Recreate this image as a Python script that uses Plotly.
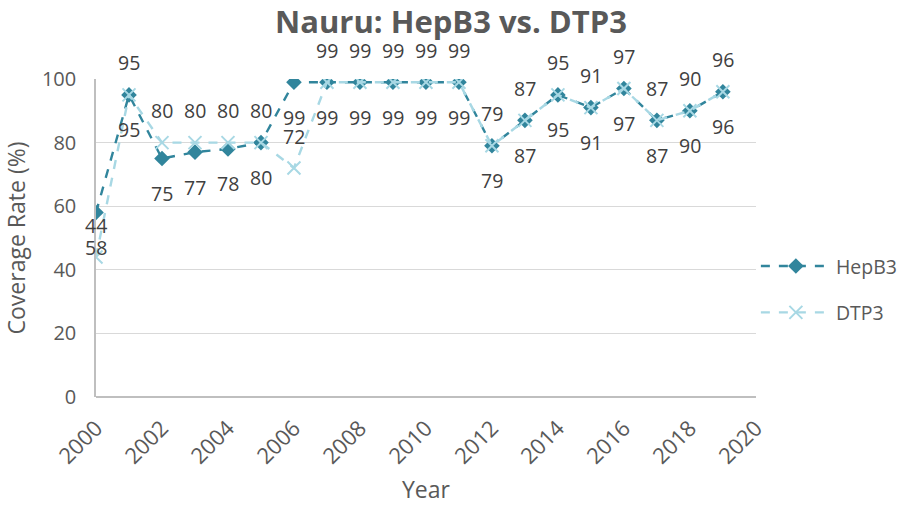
import plotly.graph_objects as go

years = list(range(2000, 2020))
hepb3 = [58, 95, 75, 77, 78, 80, 99, 99, 99, 99, 99, 99, 79, 87, 95, 91, 97, 87, 90, 96]
dtp3 = [44, 95, 80, 80, 80, 80, 72, 99, 99, 99, 99, 99, 79, 87, 95, 91, 97, 87, 90, 96]

FONT = "'Open Sans', sans-serif"
C_HEP = "#31859c"
C_DTP = "#a8d8e4"

fig = go.Figure()
fig.add_trace(go.Scatter(
    x=years, y=hepb3, name="HepB3", mode="lines+markers", legendgroup="a",
    line=dict(color=C_HEP, width=2.4, dash="dash"),
    marker=dict(symbol="diamond", size=12, color=C_HEP),
))
fig.add_trace(go.Scatter(
    x=years, y=dtp3, name="DTP3", mode="lines+markers", legendgroup="b",
    line=dict(color=C_DTP, width=2.4, dash="dash"),
    marker=dict(symbol="x-thin-open", size=13, color=C_DTP, line=dict(color=C_DTP, width=2)),
))

annotations = []
for x, v in zip(years, hepb3):
    annotations.append(dict(x=x, y=v, text=str(v), showarrow=False, yshift=-35,
                            font=dict(family=FONT, size=19.5, color="#404040")))
for x, v in zip(years, dtp3):
    annotations.append(dict(x=x, y=v, text=str(v), showarrow=False, yshift=32,
                            font=dict(family=FONT, size=19.5, color="#404040")))

fig.update_layout(
    width=902, height=505,
    paper_bgcolor="white", plot_bgcolor="white",
    margin=dict(l=96, r=145, t=79, b=95),
    title=dict(text="<b>Nauru: HepB3 vs. DTP3</b>", x=0.5, xanchor="center", y=0.956, yanchor="middle",
               font=dict(family=FONT, size=31, color="#595959")),
    font=dict(family=FONT, color="#595959"),
    annotations=annotations,
    legend=dict(xref="container", yref="container", x=0.838, xanchor="left", y=0.427, yanchor="middle",
                font=dict(family=FONT, size=19.5, color="#595959"),
                itemwidth=70, tracegroupgap=18, bgcolor="rgba(0,0,0,0)"),
    xaxis=dict(range=[2000, 2020], dtick=2, tick0=2000, tickangle=-45, automargin=False,
               anchor="free", position=0,
               tickfont=dict(family=FONT, size=22, color="#595959"), ticks="",
               showgrid=False, showline=False, zeroline=False,
               title=dict(text="Year", font=dict(family=FONT, size=23, color="#595959"))),
    yaxis=dict(range=[0, 100], dtick=20, tick0=0, automargin=False, domain=[0.0393, 1],
               tickfont=dict(family=FONT, size=20, color="#595959"), ticklabelstandoff=14,
               showgrid=True, gridcolor="#d9d9d9", gridwidth=1.2,
               showline=True, linecolor="#bfbfbf", linewidth=1.5,
               zeroline=True, zerolinecolor="#bfbfbf", zerolinewidth=1.5, ticks="",
               title=dict(text="Coverage Rate (%)", font=dict(family=FONT, size=23, color="#595959"))),
)

fig.write_html("out.html", config={"displayModeBar": False},
               post_script="document.body.style.margin='0';document.body.style.overflow='hidden';")
